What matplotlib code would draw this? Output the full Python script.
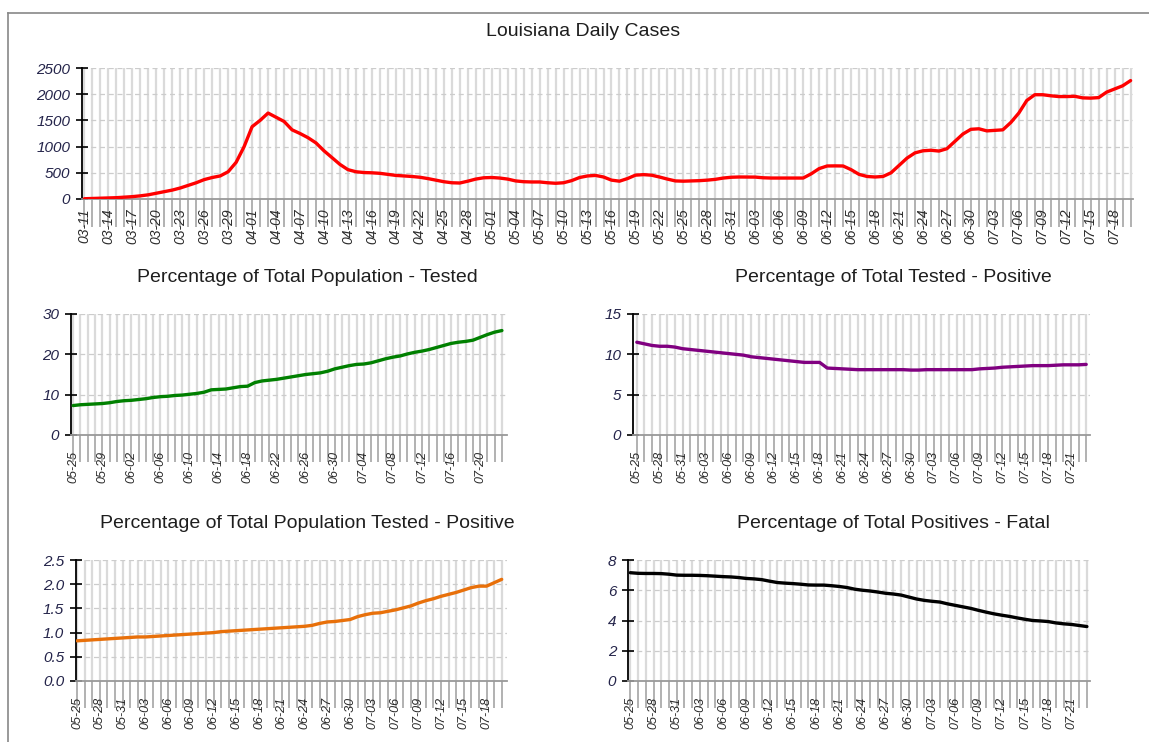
import numpy as np
import pandas as pd
import matplotlib
matplotlib.use('Agg')
import matplotlib.pyplot as plt
from matplotlib.lines import Line2D

plt.rcParams['font.family'] = ['Liberation Sans', 'DejaVu Sans']

# ---- data ----
daily_dates = pd.date_range('2020-03-11', '2020-07-20').strftime('%m-%d').tolist()
daily_cases = [5, 10, 15, 20, 25, 35, 45, 60, 80, 110,
               140, 170, 210, 260, 310, 370, 410, 440, 520, 700,
               1000, 1380, 1500, 1640, 1560, 1480, 1320, 1250, 1170, 1070,
               920, 790, 660, 560, 520, 505, 500, 490, 470, 450,
               440, 430, 415, 390, 360, 330, 310, 305, 340, 380,
               405, 410, 400, 380, 345, 330, 325, 325, 310, 300,
               310, 350, 410, 440, 450, 420, 360, 340, 390, 455,
               465, 455, 420, 380, 345, 340, 345, 350, 360, 375,
               400, 415, 420, 420, 418, 405, 400, 400, 398, 398,
               400, 480, 580, 630, 632, 630, 560, 470, 430, 420,
               430, 500, 640, 780, 880, 920, 930, 915, 960, 1100,
               1240, 1330, 1340, 1300, 1310, 1320, 1460, 1640, 1880, 1990,
               1990, 1970, 1955, 1955, 1960, 1930, 1925, 1935, 2040, 2100,
               2160, 2260]

recent_dates = pd.date_range('2020-05-25', '2020-07-23').strftime('%m-%d').tolist()

pct_pop_tested = [7.3, 7.5, 7.6, 7.7, 7.8, 8.0, 8.3, 8.5, 8.6, 8.8,
                  9.0, 9.3, 9.5, 9.6, 9.8, 9.9, 10.1, 10.3, 10.6, 11.2,
                  11.3, 11.4, 11.7, 12.0, 12.1, 13.0, 13.4, 13.6, 13.8, 14.1,
                  14.4, 14.7, 15.0, 15.2, 15.4, 15.8, 16.4, 16.8, 17.2, 17.5,
                  17.6, 17.9, 18.4, 18.9, 19.3, 19.6, 20.1, 20.5, 20.8, 21.2,
                  21.7, 22.2, 22.7, 23.0, 23.2, 23.5, 24.2, 24.9, 25.5, 25.9]

pct_tested_positive = [11.5, 11.3, 11.1, 11.0, 11.0, 10.9, 10.7, 10.6, 10.5, 10.4,
                       10.3, 10.2, 10.1, 10.0, 9.9, 9.7, 9.6, 9.5, 9.4, 9.3,
                       9.2, 9.1, 9.0, 9.0, 9.0, 8.3, 8.25, 8.2, 8.15, 8.1,
                       8.1, 8.1, 8.1, 8.1, 8.1, 8.1, 8.05, 8.05, 8.1, 8.1,
                       8.1, 8.1, 8.1, 8.1, 8.1, 8.2, 8.25, 8.3, 8.4, 8.45,
                       8.5, 8.55, 8.6, 8.6, 8.6, 8.65, 8.7, 8.7, 8.7, 8.75]

pos_dates = pd.date_range('2020-05-25', '2020-07-20').strftime('%m-%d').tolist()
pct_pop_positive = [0.83, 0.84, 0.85, 0.86, 0.87, 0.88, 0.89, 0.90, 0.91, 0.91,
                    0.92, 0.93, 0.94, 0.95, 0.96, 0.97, 0.98, 0.99, 1.00, 1.02,
                    1.03, 1.04, 1.05, 1.06, 1.07, 1.08, 1.09, 1.10, 1.11, 1.12,
                    1.13, 1.15, 1.19, 1.22, 1.23, 1.25, 1.27, 1.33, 1.37, 1.40,
                    1.41, 1.44, 1.47, 1.51, 1.55, 1.61, 1.66, 1.70, 1.75, 1.79,
                    1.83, 1.88, 1.93, 1.96, 1.96, 2.03, 2.10]

pct_positive_fatal = [7.16, 7.12, 7.11, 7.11, 7.10, 7.06, 7.0, 6.99, 6.99, 6.98,
                      6.96, 6.93, 6.90, 6.88, 6.84, 6.78, 6.75, 6.70, 6.60, 6.51,
                      6.47, 6.44, 6.40, 6.35, 6.34, 6.34, 6.30, 6.25, 6.18, 6.07,
                      6.00, 5.95, 5.88, 5.80, 5.75, 5.68, 5.55, 5.42, 5.33, 5.27,
                      5.22, 5.10, 5.00, 4.90, 4.80, 4.67, 4.55, 4.44, 4.35, 4.27,
                      4.17, 4.08, 4.00, 3.97, 3.93, 3.84, 3.78, 3.74, 3.67, 3.60]

W, H = 1149, 742
fig = plt.figure(figsize=(W / 100, H / 100), dpi=100)


def px_axes(left, top, right, bottom):
    return fig.add_axes([left / W, 1 - bottom / H, (right - left) / W, (bottom - top) / H])


def draw(ax, labels, values, color, step, yticks, ylabels, xlim, title, title_y,
         xfs, tick_len, pad, title_x=None):
    x = np.arange(len(values))
    ax.plot(x, values, color=color, lw=2.4, solid_capstyle='round', zorder=3)
    ax.set_xlim(*xlim)
    ax.set_ylim(yticks[0], yticks[-1])
    ax.set_xticks(x)
    ax.set_xticklabels([lab if i % step == 0 else '' for i, lab in enumerate(labels)],
                       rotation=90, fontsize=xfs, style='italic', color='#2a2a2a',
                       va='top', ha='center')
    ax.set_yticks(yticks)
    ax.set_yticklabels(ylabels, fontsize=11, style='italic', color='#24244a')
    ax.tick_params(axis='x', length=tick_len, width=1.3, color='#ababab', pad=pad)
    ax.tick_params(axis='y', direction='inout', length=9, width=1.2, color='black', pad=4)
    ax.grid(axis='x', color='#dadada', lw=1.6, ls='-', zorder=0)
    ax.grid(axis='y', color='#cccccc', lw=0.9, ls=(0, (4, 3)), zorder=0)
    ax.set_axisbelow(True)
    for s in ['top', 'right']:
        ax.spines[s].set_visible(False)
    ax.spines['left'].set_color('black')
    ax.spines['left'].set_linewidth(1.3)
    ax.spines['bottom'].set_color('#999999')
    ax.spines['bottom'].set_linewidth(1.3)
    if title_x is None:
        title_x = (ax.get_position().x0 + ax.get_position().x1) / 2 * W
    fig.text(title_x / W, 1 - title_y / H, title, ha='center', va='center',
             fontsize=14, color='#1e1e1e')


# top: daily cases
ax1 = px_axes(82, 68, 1133, 199)
draw(ax1, daily_dates, daily_cases, '#ff0000', 3,
     [0, 500, 1000, 1500, 2000, 2500], ['0', '500', '1000', '1500', '2000', '2500'],
     (-0.3, 131.3), 'Louisiana Daily Cases', 31, 10, 20, -13, title_x=583)

ax2 = px_axes(71, 314, 507, 435)
draw(ax2, recent_dates, pct_pop_tested, '#008000', 4,
     [0, 10, 20, 30], ['0', '10', '20', '30'],
     (-0.3, 59.7), 'Percentage of Total Population - Tested', 278, 9, 19.4, -8,
     title_x=307)

ax3 = px_axes(633, 314, 1090, 435)
draw(ax3, recent_dates, pct_tested_positive, '#800080', 3,
     [0, 5, 10, 15], ['0', '5', '10', '15'],
     (-0.5, 59.5), 'Percentage of Total Tested - Positive', 278, 9, 19.4, -8,
     title_x=893)

ax4 = px_axes(76, 560, 507, 681)
draw(ax4, pos_dates, pct_pop_positive, '#e8700a', 3,
     [0, 0.5, 1.0, 1.5, 2.0, 2.5], ['0.0', '0.5', '1.0', '1.5', '2.0', '2.5'],
     (-0.15, 56.7), 'Percentage of Total Population Tested - Positive', 524, 9, 19.4, -8,
     title_x=307)

ax5 = px_axes(628, 560, 1090, 681)
draw(ax5, recent_dates, pct_positive_fatal, '#000000', 3,
     [0, 2, 4, 6, 8], ['0', '2', '4', '6', '8'],
     (-0.3, 59.4), 'Percentage of Total Positives - Fatal', 524, 9, 19.4, -8,
     title_x=893)

# frame lines of the screenshot
fig.add_artist(Line2D([8 / W, 8 / W], [0, 1 - 13 / H], color='#888888', lw=1.2))
fig.add_artist(Line2D([8 / W, 1], [1 - 13 / H, 1 - 13 / H], color='#888888', lw=1.2))

fig.savefig('out.png', dpi=100)
